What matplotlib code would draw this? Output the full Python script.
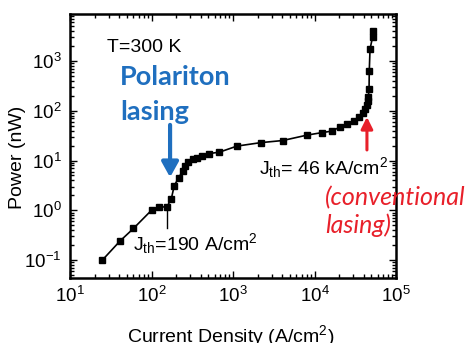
import numpy as np
import matplotlib
matplotlib.use('Agg')
import matplotlib.pyplot as plt

plt.rcParams['font.family'] = ['Liberation Sans', 'DejaVu Sans']
plt.rcParams['mathtext.fontset'] = 'custom'
plt.rcParams['mathtext.rm'] = 'Liberation Sans'
plt.rcParams['mathtext.it'] = 'Liberation Sans:italic'

# current density (A/cm^2) and output power (nW)
current = [25, 41, 60, 100, 125, 155, 175, 190, 215, 241, 258, 283, 320, 365,
           413, 512, 679, 1120, 2200, 4060, 8100, 12250, 16300, 20500, 25100,
           30500, 35500, 39000, 41800, 43800, 45000, 45700, 46700, 47000,
           48000, 51500, 51500]
power = [0.1, 0.24, 0.43, 1.0, 1.15, 1.18, 1.7, 3.1, 4.5, 6.1, 7.7, 9.2, 10.5,
         11.3, 12.2, 13.8, 14.7, 19.5, 22.9, 25.2, 32.4, 36.3, 39, 47, 53.5,
         62, 76, 91, 107, 129, 158, 185, 272, 630, 1730, 3000, 4000]

W, H = 467, 343
fig = plt.figure(figsize=(W / 100, H / 100), dpi=100)
ax = fig.add_axes([70 / W, 1 - 278 / H, 326 / W, 264 / H])

ax.plot(current, power, '-s', color='black', lw=1.2, ms=5)

ax.set_xscale('log')
ax.set_yscale('log')
ax.set_xlim(10, 1e5)
ax.set_ylim(0.0435, 8810)
ax.set_xticks([1e1, 1e2, 1e3, 1e4, 1e5])
ax.set_yticks([1e-1, 1e0, 1e1, 1e2, 1e3])

for s in ax.spines.values():
    s.set_linewidth(1.8)
ax.tick_params(which='both', direction='in', top=True, right=True,
               labelsize=13.5, width=1)
ax.tick_params(which='major', length=5, pad=6)
ax.tick_params(which='minor', length=3)

fig.text(18 / W, 1 - 157 / H, 'Power (nW)', rotation=90, fontsize=14,
         ha='center', va='center')
fig.text(231 / W, 1 - 342 / H, 'Current Density (A/cm$^2$)', fontsize=14,
         ha='center', va='baseline')

ax.text(28.4, 1900, 'T=300 K', fontsize=14, va='center', ha='left')

blue = '#1f6fbf'
ax.text(41, 330, 'Polariton', fontsize=19.5, fontweight='bold', color=blue,
        family='Lato', va='baseline')
ax.text(41, 65, 'lasing', fontsize=19.5, fontweight='bold', color=blue,
        family='Lato', va='baseline')
ax.annotate('', xy=(169, 4.6), xytext=(169, 52),
            arrowprops=dict(arrowstyle='-|>,head_width=0.5,head_length=0.9',
                            color=blue, lw=3, shrinkA=0, shrinkB=0))

red = '#e8202a'
ax.annotate('', xy=(44000, 75), xytext=(44000, 16.3),
            arrowprops=dict(arrowstyle='-|>,head_width=0.35,head_length=0.7',
                            color=red, lw=2.2, shrinkA=0, shrinkB=0))
fig.text(325 / W, 1 - 205 / H, '(conventional', fontsize=18, style='italic',
         color=red, family='Lato', va='baseline')
fig.text(325 / W, 1 - 233 / H, 'lasing)', fontsize=18, style='italic',
         color=red, family='Lato', va='baseline')

ax.plot([155, 155], [0.44, 1.15], color='black', lw=1)
ax.text(59.3, 0.159, r'J$_{\rm th}$=190 A/cm$^2$', fontsize=14, va='baseline')
ax.text(2080, 5.36, r'J$_{\rm th}$= 46 kA/cm$^2$', fontsize=14, va='baseline')

fig.savefig('out.png', dpi=100)
